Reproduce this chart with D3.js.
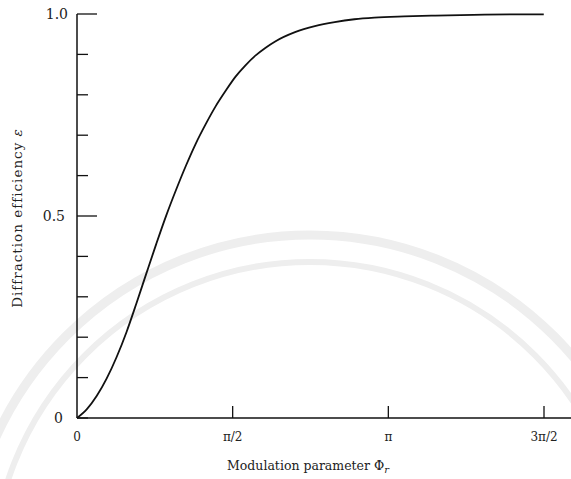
<!DOCTYPE html>
<html>
<head>
<meta charset="utf-8">
<script src="https://cdn.jsdelivr.net/npm/d3@7"></script>
<style>
  body { margin: 0; background: #fff; }
  svg { display: block; font-family: "DejaVu Serif", "Liberation Serif", serif; }
</style>
</head>
<body>
<div id="chart"></div>
<script>
// Values
const phi = [0, 0.1, 0.2, 0.3, 0.4, 0.5, 0.6, 0.7, 0.8, 0.9, 1.0, 1.1, 1.2, 1.3, 1.4, 1.5,
             1.6, 1.7, 1.8, 1.9, 2.0, 2.2, 2.4, 2.6, 2.8, 3.0, 3.3, 3.6, 4.0, 4.4, 4.71];
const efficiency = [0, 0.022, 0.055, 0.098, 0.151, 0.213, 0.284, 0.358, 0.431, 0.501, 0.565, 0.625,
                    0.68, 0.728, 0.772, 0.81, 0.845, 0.873, 0.897, 0.916, 0.932, 0.955, 0.97,
                    0.98, 0.987, 0.991, 0.994, 0.996, 0.998, 0.999, 0.999];

const xTicks = [0, Math.PI / 2, Math.PI, 3 * Math.PI / 2];
const xTickLabels = ["0", "\u03c0/2", "\u03c0", "3\u03c0/2"];
const yTicks = [0, 0.1, 0.2, 0.3, 0.4, 0.5, 0.6, 0.7, 0.8, 0.9, 1.0];
const yTickLabels = { 0: "0", 0.5: "0.5", 1: "1.0" };

const width = 571, height = 479;

const svg = d3.select("#chart").append("svg")
  .attr("width", width)
  .attr("height", height);

// faint watermark arcs in the background
const wm = svg.append("g").attr("fill", "none").attr("stroke", "#eeeeee");
wm.append("circle").attr("cx", 310).attr("cy", 580).attr("r", 345).attr("stroke-width", 9);
wm.append("circle").attr("cx", 310).attr("cy", 580).attr("r", 318).attr("stroke-width", 6);

const x = d3.scaleLinear()
  .domain([0, 3 * Math.PI / 2])
  .range([77, 544]);

const y = d3.scaleLinear()
  .domain([0, 1])
  .range([418, 14]);

// axes lines
svg.append("line")
  .attr("x1", x(0)).attr("x2", width)
  .attr("y1", y(0)).attr("y2", y(0))
  .attr("stroke", "#111").attr("stroke-width", 1.5);

svg.append("line")
  .attr("x1", x(0)).attr("x2", x(0))
  .attr("y1", y(0)).attr("y2", y(1))
  .attr("stroke", "#111").attr("stroke-width", 1.5);

// y ticks (drawn inward, major ones longer)
svg.selectAll(".ytick")
  .data(yTicks)
  .enter()
  .append("line")
  .attr("class", "ytick")
  .attr("x1", x(0))
  .attr("x2", d => (yTickLabels[d] !== undefined && d > 0) ? x(0) + 20 : x(0) + 11)
  .attr("y1", d => y(d))
  .attr("y2", d => y(d))
  .attr("stroke", "#111")
  .attr("stroke-width", 1.3);

svg.selectAll(".ylabel")
  .data(yTicks.filter(d => yTickLabels[d] !== undefined))
  .enter()
  .append("text")
  .attr("class", "ylabel")
  .attr("x", d => d === 0 ? 63 : (d === 1 ? 68 : 65))
  .attr("y", d => y(d) + 5)
  .attr("text-anchor", "end")
  .style("font-size", "14px")
  .attr("fill", "#222")
  .text(d => yTickLabels[d]);

// x ticks (drawn upward)
svg.selectAll(".xtick")
  .data(xTicks.slice(1))
  .enter()
  .append("line")
  .attr("class", "xtick")
  .attr("x1", d => x(d)).attr("x2", d => x(d))
  .attr("y1", y(0)).attr("y2", y(0) - 12)
  .attr("stroke", "#111")
  .attr("stroke-width", 1.3);

svg.selectAll(".xlabel")
  .data(xTicks)
  .enter()
  .append("text")
  .attr("class", "xlabel")
  .attr("x", d => x(d))
  .attr("y", 441)
  .attr("text-anchor", "middle")
  .style("font-size", "12px")
  .attr("fill", "#222")
  .text((d, i) => xTickLabels[i]);

// axis titles
svg.append("text")
  .attr("x", 308)
  .attr("y", 470)
  .attr("text-anchor", "middle")
  .style("font-size", "12.5px")
  .attr("fill", "#222")
  .text("Modulation parameter \u03a6")
  .append("tspan")
  .attr("dy", 3)
  .style("font-size", "10px")
  .style("font-style", "italic")
  .text("r");

svg.append("text")
  .attr("transform", "translate(22,218) rotate(-90)")
  .attr("text-anchor", "middle")
  .style("font-size", "13.5px")
  .style("letter-spacing", "1px")
  .attr("fill", "#222")
  .text("Diffraction efficiency ")
  .append("tspan")
  .style("font-style", "italic")
  .text("\u03b5");

// the curve
const points = phi.map((p, i) => [p, efficiency[i]]);
const line = d3.line()
  .x(d => x(d[0]))
  .y(d => y(d[1]))
  .curve(d3.curveMonotoneX);

svg.append("path")
  .datum(points)
  .attr("fill", "none")
  .attr("stroke", "#111")
  .attr("stroke-width", 1.8)
  .attr("d", line);
</script>
</body>
</html>
